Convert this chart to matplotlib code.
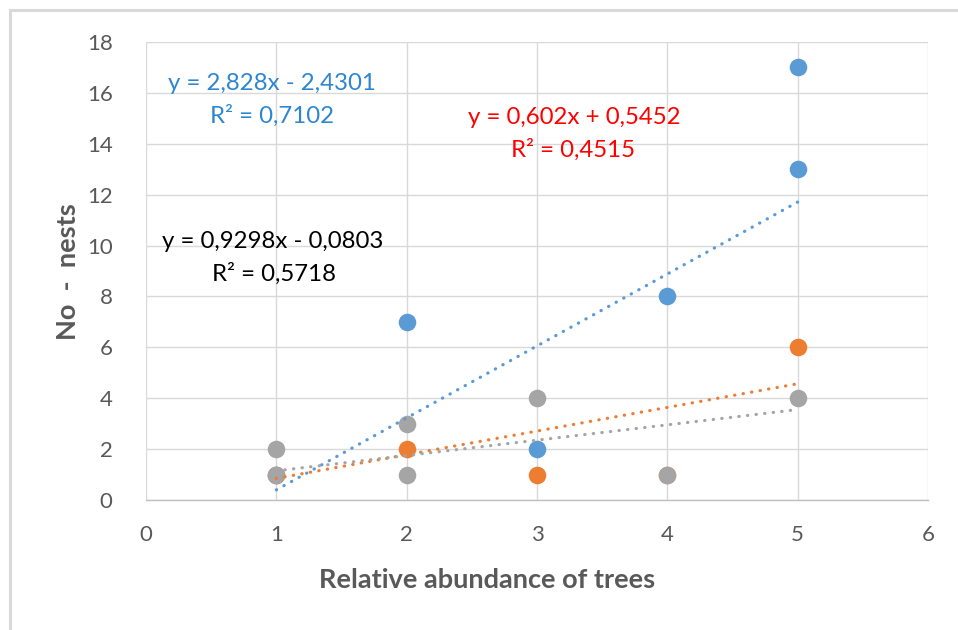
import matplotlib
matplotlib.use("Agg")
import matplotlib.pyplot as plt
from matplotlib.lines import Line2D

plt.rcParams['font.family'] = ['Lato', 'DejaVu Sans']

# ---- data ----
blue_x = [1, 2, 3, 4, 5, 5]
blue_y = [1, 7, 2, 8, 13, 17]
orange_x = [1, 2, 3, 4, 5]
orange_y = [1, 2, 1, 1, 6]
gray_x = [1, 1, 2, 2, 3, 4, 5]
gray_y = [1, 2, 1, 3, 4, 1, 4]

# trendline coefficients (slope, intercept) as drawn
blue_trend = (2.828, -2.4301)
orange_trend = (0.9298, -0.0803)
gray_trend = (0.602, 0.5452)
trend_x = [1, 5]

labels = [
    ("y = 2,828x - 2,4301", "R² = 0,7102", "#2E86D0", (0.97, 16.35), (0.97, 15.09)),
    ("y = 0,602x + 0,5452", "R² = 0,4515", "#FF0000", (3.29, 15.05), (3.28, 13.76)),
    ("y = 0,9298x - 0,0803", "R² = 0,5718", "#000000", (0.97, 10.14), (0.98, 8.88)),
]

x_ticks = [0, 1, 2, 3, 4, 5, 6]
y_ticks = [0, 2, 4, 6, 8, 10, 12, 14, 16, 18]

BLUE = "#5B9BD5"
ORANGE = "#ED7D31"
GRAY = "#A5A5A5"

W, H = 958, 630
fig = plt.figure(figsize=(W / 100, H / 100), dpi=100)
ax = fig.add_axes([146 / W, 1 - 500 / H, (928 - 146) / W, (500 - 42) / H])

ax.set_xlim(0, 6)
ax.set_ylim(0, 18)
ax.set_xticks(x_ticks)
ax.set_yticks(y_ticks)
ax.grid(True, color="#D9D9D9", linewidth=1.0, zorder=0)
ax.set_axisbelow(True)
for s in ["top", "right", "left"]:
    ax.spines[s].set_visible(False)
ax.spines["bottom"].set_color("#BFBFBF")
ax.spines["bottom"].set_linewidth(1.0)
ax.tick_params(axis="both", length=0, labelsize=16, colors="#595959")
ax.tick_params(axis="y", pad=24)
ax.tick_params(axis="x", pad=18)

ms = 160
ax.scatter(blue_x, blue_y, s=ms, color=BLUE, zorder=3, linewidths=0)
ax.scatter(orange_x, orange_y, s=ms, color=ORANGE, zorder=4, linewidths=0)
ax.scatter(gray_x, gray_y, s=ms, color=GRAY, zorder=5, linewidths=0)

for (m, b), c in [(blue_trend, BLUE), (orange_trend, ORANGE), (gray_trend, GRAY)]:
    ty = [m * xx + b for xx in trend_x]
    ax.plot(trend_x, ty, color=c, linewidth=2.3, linestyle=(0, (0.1, 2.6)),
            dash_capstyle="round", zorder=6)

for eq, r2, col, p1, p2 in labels:
    ax.text(p1[0], p1[1], eq, color=col, fontsize=17.3, ha="center", va="center", zorder=7)
    ax.text(p2[0], p2[1], r2, color=col, fontsize=17.3, ha="center", va="center", zorder=7)

fig.text(487 / W, 1 - 580 / H, "Relative abundance of trees", fontsize=19.5,
         fontweight="bold", color="#595959", ha="center", va="center")
fig.text(68 / W, 1 - 272 / H, "No  -  nests", fontsize=19.5, fontweight="bold",
         color="#595959", ha="center", va="center", rotation=90)

# chart area border (cropped on right and bottom)
fig.add_artist(Line2D([10 / W, 1.0], [1 - 10 / H, 1 - 10 / H], color="#D9D9D9",
                      linewidth=2.2, transform=fig.transFigure))
fig.add_artist(Line2D([10 / W, 10 / W], [1 - 10 / H, 0.0], color="#D9D9D9",
                      linewidth=2.2, transform=fig.transFigure))

fig.savefig("out.png", dpi=100)
